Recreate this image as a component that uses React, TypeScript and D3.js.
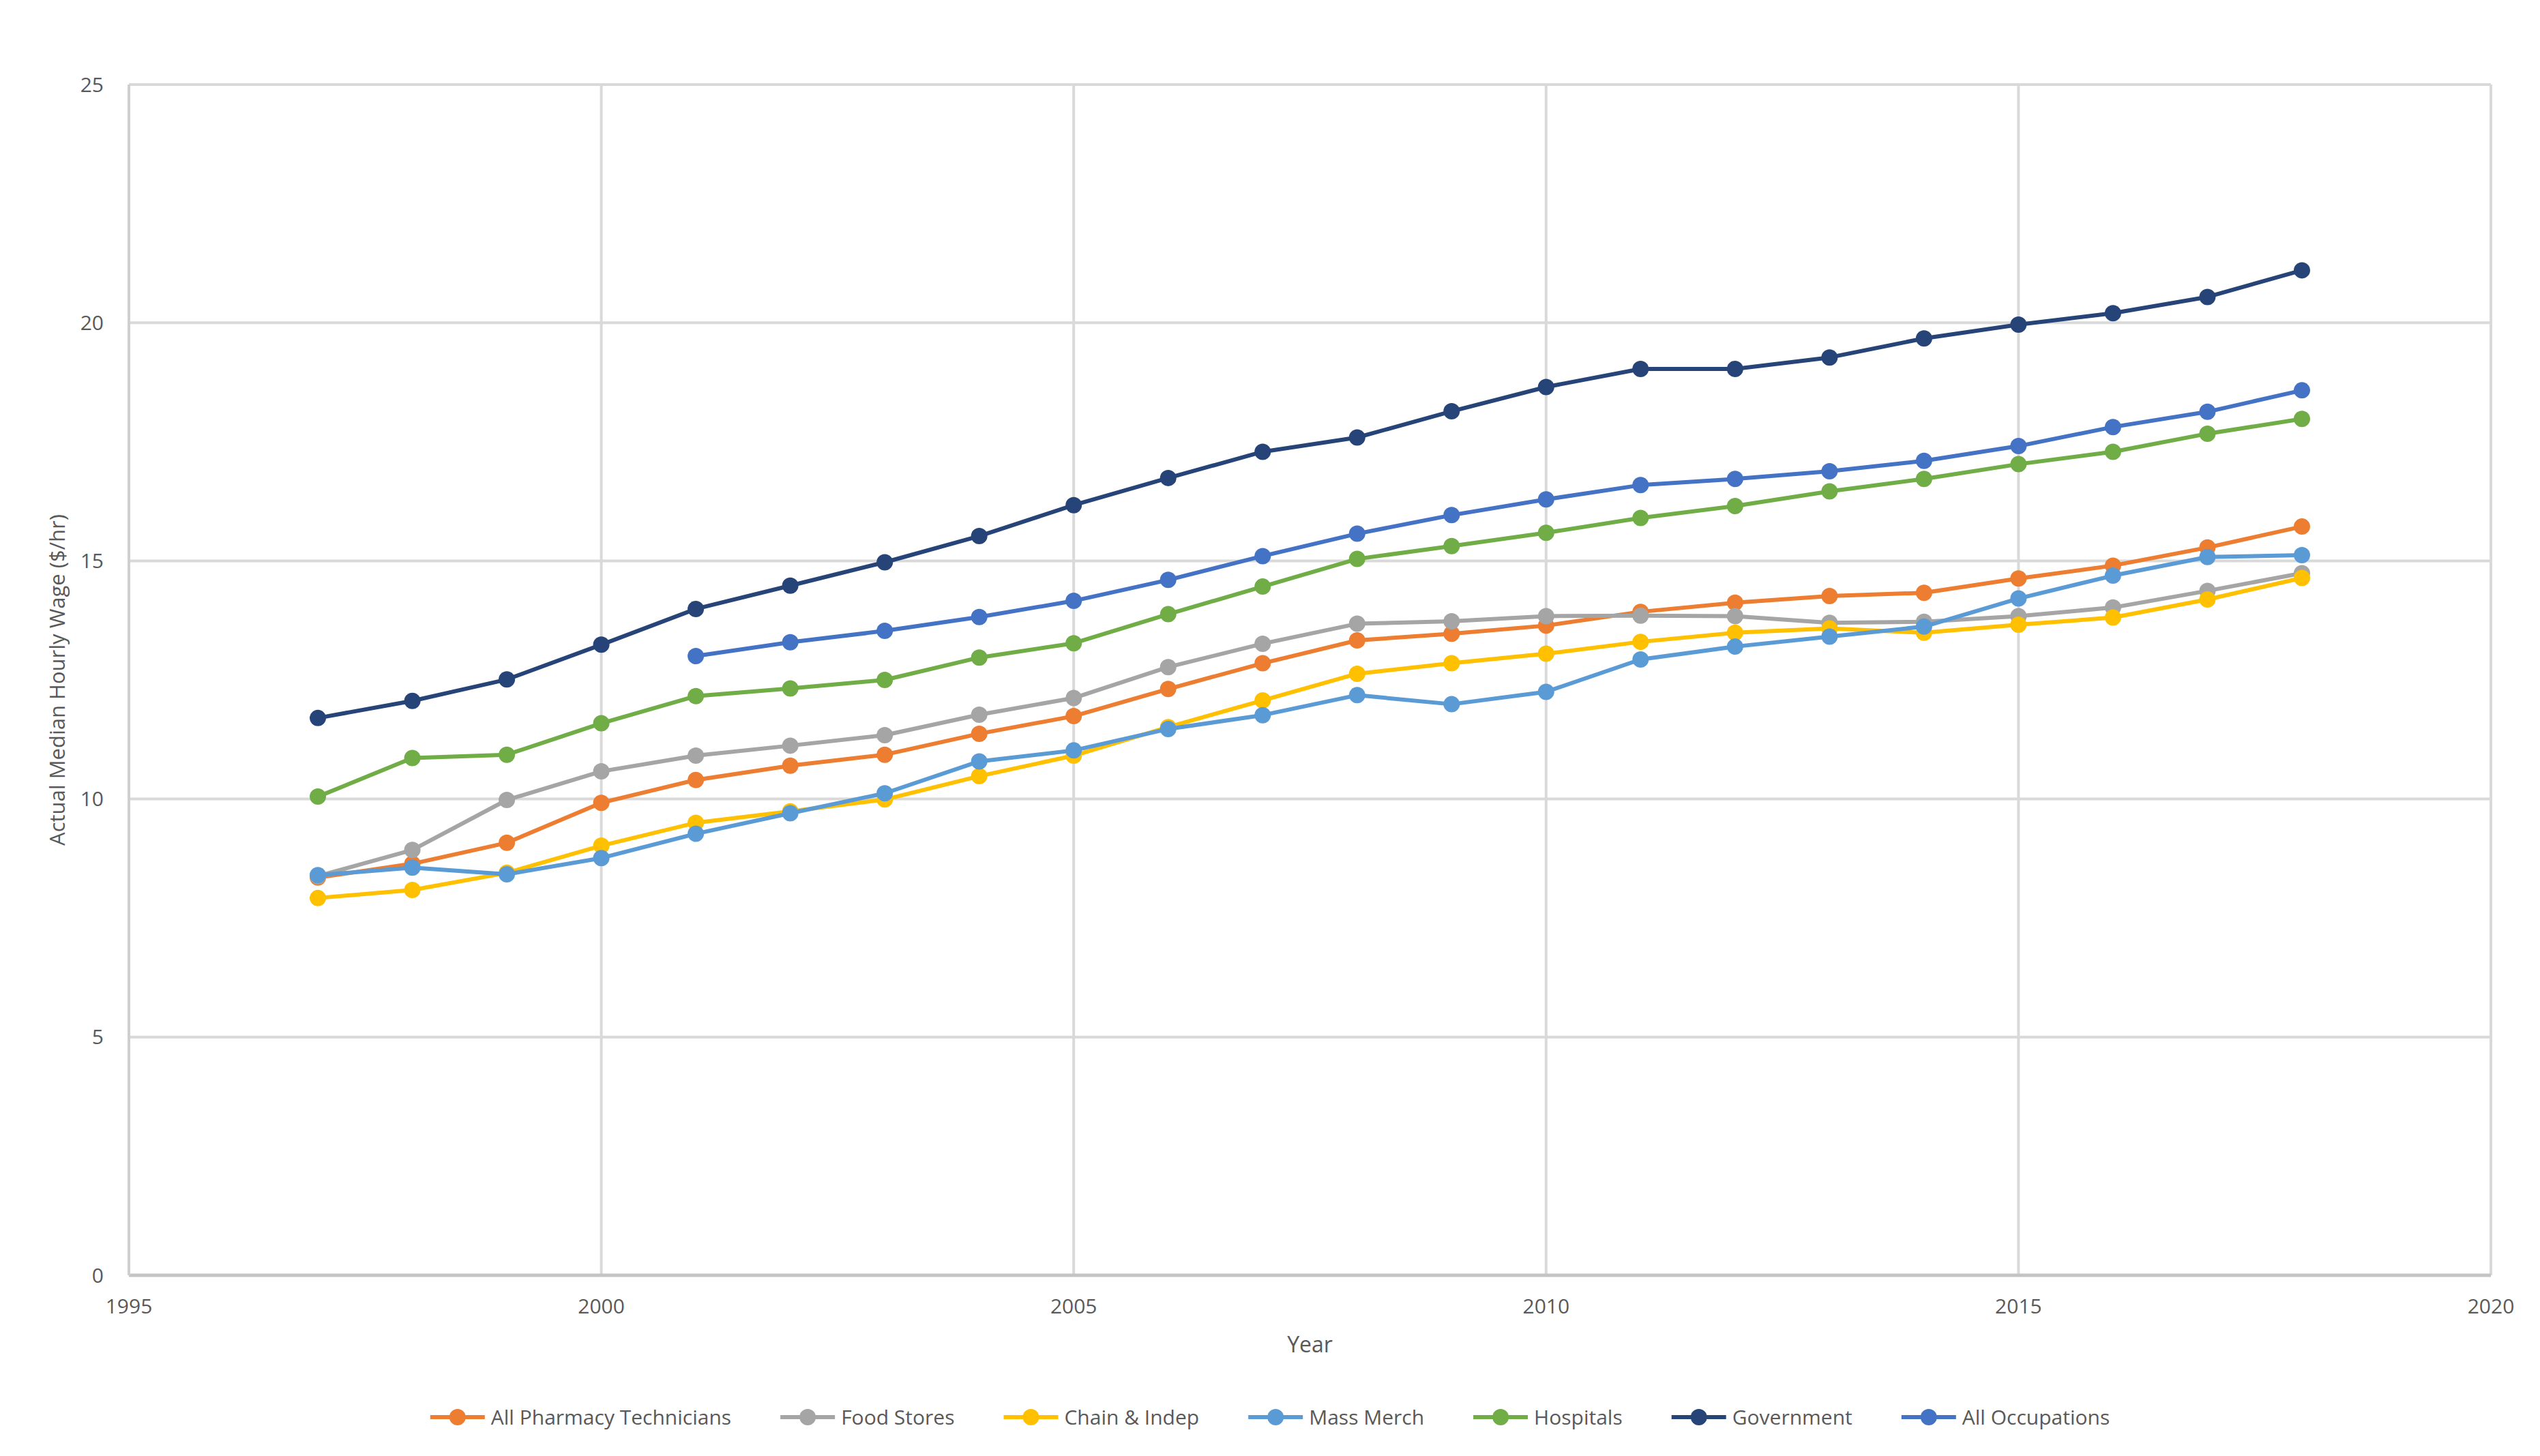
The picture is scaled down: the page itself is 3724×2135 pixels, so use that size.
import React, { useEffect, useRef } from 'react';
import * as d3 from 'd3';

const years = d3.range(1997, 2019);

const seriesNames = [
  'All Pharmacy Technicians',
  'Food Stores',
  'Chain & Indep',
  'Mass Merch',
  'Hospitals',
  'Government',
  'All Occupations',
];

const seriesColors = ['#ED7D31', '#A5A5A5', '#FFC000', '#5B9BD5', '#70AD47', '#264478', '#4472C4'];

const allPharmacyTechs = [
  8.35, 8.64, 9.08, 9.92, 10.4, 10.7, 10.93, 11.37, 11.74, 12.31, 12.85, 13.33, 13.47, 13.64, 13.93, 14.12,
  14.26, 14.33, 14.63, 14.9, 15.28, 15.72,
];
const foodStores = [
  8.38, 8.93, 9.98, 10.58, 10.91, 11.12, 11.34, 11.77, 12.12, 12.77, 13.26, 13.68, 13.73, 13.84, 13.85, 13.84,
  13.7, 13.72, 13.84, 14.02, 14.37, 14.74,
];
const chainIndep = [
  7.92, 8.09, 8.45, 9.02, 9.5, 9.74, 9.99, 10.48, 10.91, 11.51, 12.07, 12.63, 12.85, 13.05, 13.3, 13.49, 13.58,
  13.49, 13.66, 13.81, 14.19, 14.64,
];
const massMerch = [
  8.4, 8.56, 8.42, 8.76, 9.27, 9.7, 10.12, 10.79, 11.02, 11.47, 11.76, 12.18, 11.99, 12.25, 12.93, 13.2, 13.41,
  13.62, 14.21, 14.69, 15.08, 15.12,
];
const hospitals = [
  10.05, 10.86, 10.93, 11.59, 12.16, 12.32, 12.5, 12.97, 13.27, 13.88, 14.46, 15.04, 15.31, 15.59, 15.9, 16.15,
  16.46, 16.72, 17.03, 17.29, 17.67, 17.98,
];
const government = [
  11.7, 12.06, 12.51, 13.24, 13.99, 14.48, 14.97, 15.52, 16.17, 16.74, 17.29, 17.59, 18.14, 18.65, 19.03, 19.03,
  19.27, 19.67, 19.96, 20.2, 20.54, 21.1,
];
// no data before 2001
const allOccupations = [
  null, null, null, null, 13.0, 13.29, 13.53, 13.82, 14.16, 14.6, 15.1, 15.57, 15.96, 16.29, 16.59, 16.72, 16.88,
  17.1, 17.41, 17.81, 18.13, 18.58,
];

const seriesValues: (number | null)[][] = [
  allPharmacyTechs,
  foodStores,
  chainIndep,
  massMerch,
  hospitals,
  government,
  allOccupations,
];

const xTicks = [1995, 2000, 2005, 2010, 2015, 2020];
const yTicks = [0, 5, 10, 15, 20, 25];

const xTitle = 'Year';
const yTitle = 'Actual Median Hourly Wage ($/hr)';

interface Point {
  year: number;
  value: number | null;
}

const WIDTH = 3724;
const HEIGHT = 2135;
const FONT = '"Open Sans", "Noto Sans", sans-serif';
const TEXT_COLOR = '#595959';
const MARKER_R = 12;
const LINE_W = 6;

const App: React.FC = () => {
  const svgRef = useRef<SVGSVGElement>(null);

  useEffect(() => {
    const svgEl = svgRef.current;
    if (!svgEl) return;
    const svg = d3.select(svgEl);
    svg.selectAll('*').remove();

    const margin = { left: 189, right: WIDTH - 3652, top: 124, bottom: HEIGHT - 1870 };
    const x = d3.scaleLinear().domain([1995, 2020]).range([margin.left, WIDTH - margin.right]);
    const y = d3.scaleLinear().domain([0, 25]).range([HEIGHT - margin.bottom, margin.top]);

    // gridlines
    const grid = svg.append('g');
    grid
      .selectAll('line.h')
      .data(yTicks)
      .join('line')
      .attr('x1', x(1995))
      .attr('x2', x(2020))
      .attr('y1', (d) => y(d))
      .attr('y2', (d) => y(d))
      .attr('stroke', '#D9D9D9')
      .attr('stroke-width', 4);
    grid
      .selectAll('line.v')
      .data(xTicks)
      .join('line')
      .attr('x1', (d) => x(d))
      .attr('x2', (d) => x(d))
      .attr('y1', y(0))
      .attr('y2', y(25))
      .attr('stroke', '#D9D9D9')
      .attr('stroke-width', 4);

    // axes
    svg
      .append('line')
      .attr('x1', x(1995))
      .attr('x2', x(2020))
      .attr('y1', y(0))
      .attr('y2', y(0))
      .attr('stroke', '#C4C4C4')
      .attr('stroke-width', 5);
    svg
      .append('line')
      .attr('x1', x(1995))
      .attr('x2', x(1995))
      .attr('y1', y(0))
      .attr('y2', y(25))
      .attr('stroke', '#CFCFCF')
      .attr('stroke-width', 4);

    // tick labels
    svg
      .append('g')
      .selectAll('text')
      .data(yTicks)
      .join('text')
      .attr('x', x(1995) - 37)
      .attr('y', (d) => y(d))
      .attr('dy', '0.35em')
      .attr('text-anchor', 'end')
      .attr('font-family', FONT)
      .attr('font-size', 30)
      .attr('fill', TEXT_COLOR)
      .text((d) => d);
    svg
      .append('g')
      .selectAll('text')
      .data(xTicks)
      .join('text')
      .attr('x', (d) => x(d))
      .attr('y', y(0) + 45)
      .attr('dy', '0.35em')
      .attr('text-anchor', 'middle')
      .attr('font-family', FONT)
      .attr('font-size', 30)
      .attr('fill', TEXT_COLOR)
      .text((d) => d);

    // axis titles
    svg
      .append('text')
      .attr('x', (x(1995) + x(2020)) / 2)
      .attr('y', 1972)
      .attr('dy', '0.35em')
      .attr('text-anchor', 'middle')
      .attr('font-family', FONT)
      .attr('font-size', 32)
      .attr('fill', TEXT_COLOR)
      .text(xTitle);
    svg
      .append('text')
      .attr('transform', `translate(84,${(y(0) + y(25)) / 2}) rotate(-90)`)
      .attr('dy', '0.35em')
      .attr('text-anchor', 'middle')
      .attr('font-family', FONT)
      .attr('font-size', 31)
      .attr('fill', TEXT_COLOR)
      .text(yTitle);

    // series
    const line = d3
      .line<Point>()
      .defined((d) => d.value !== null)
      .x((d) => x(d.year))
      .y((d) => y(d.value as number));

    seriesValues.forEach((vals, i) => {
      const pts: Point[] = years.map((yr, j) => ({ year: yr, value: vals[j] }));
      const g = svg.append('g');
      g.append('path')
        .attr('d', line(pts))
        .attr('fill', 'none')
        .attr('stroke', seriesColors[i])
        .attr('stroke-width', LINE_W)
        .attr('stroke-linejoin', 'round');
      g.selectAll('circle')
        .data(pts.filter((p) => p.value !== null))
        .join('circle')
        .attr('cx', (d) => x(d.year))
        .attr('cy', (d) => y(d.value as number))
        .attr('r', MARKER_R)
        .attr('fill', seriesColors[i]);
    });

    // legend, centred below the chart
    const legendY = 2078;
    const sampleW = 80;
    const textGap = 9;
    const itemGap = 72;
    const legend = svg.append('g');
    const items = seriesNames.map((name, i) => {
      const item = legend.append('g');
      item
        .append('line')
        .attr('x1', 0)
        .attr('x2', sampleW)
        .attr('y1', 0)
        .attr('y2', 0)
        .attr('stroke', seriesColors[i])
        .attr('stroke-width', LINE_W);
      item.append('circle').attr('cx', sampleW / 2).attr('cy', 0).attr('r', MARKER_R).attr('fill', seriesColors[i]);
      const label = item
        .append('text')
        .attr('x', sampleW + textGap)
        .attr('y', 0)
        .attr('dy', '0.35em')
        .attr('font-family', FONT)
        .attr('font-size', 30)
        .attr('fill', TEXT_COLOR)
        .text(name);
      const w = (label.node() as SVGTextElement).getComputedTextLength();
      return { item, w: sampleW + textGap + w };
    });
    const total = d3.sum(items, (d) => d.w) + itemGap * (items.length - 1);
    let cursor = (WIDTH - total) / 2;
    items.forEach(({ item, w }) => {
      item.attr('transform', `translate(${cursor},${legendY})`);
      cursor += w + itemGap;
    });
  }, []);

  return (
    <svg
      ref={svgRef}
      width={WIDTH}
      height={HEIGHT}
      style={{ position: 'absolute', left: 0, top: 0, background: '#fff' }}
    />
  );
};

export default App;
